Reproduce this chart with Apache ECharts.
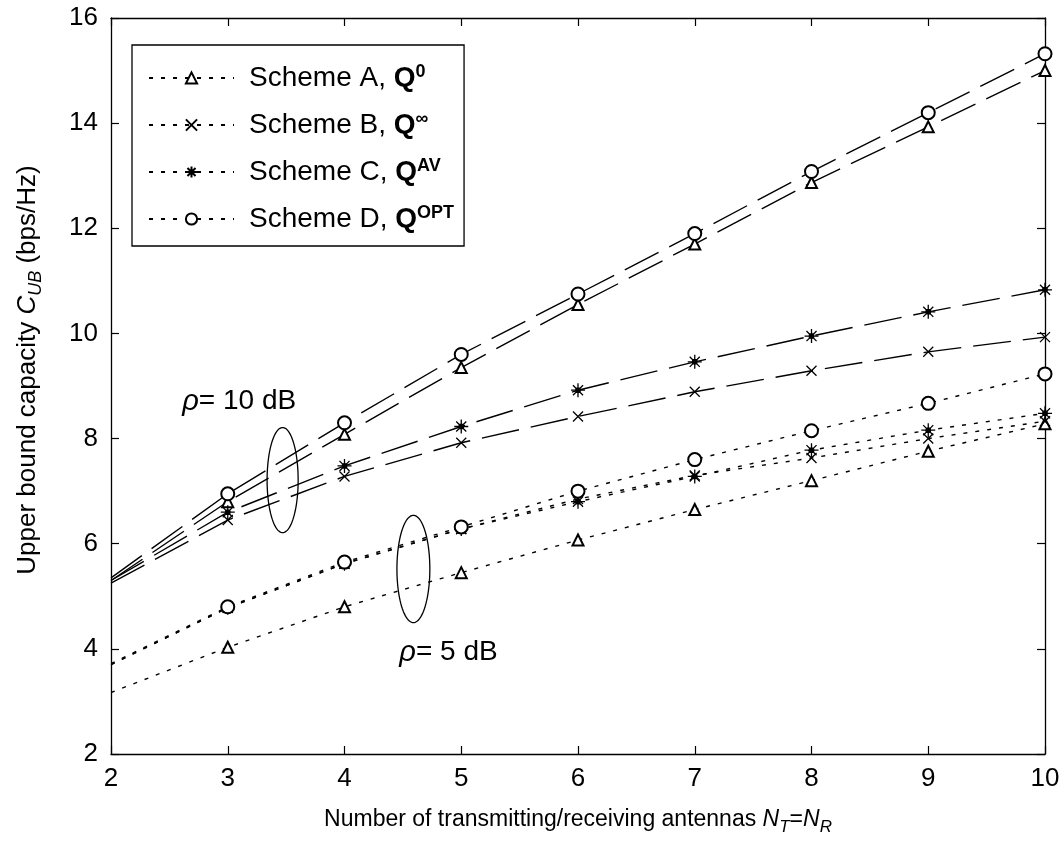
<!DOCTYPE html>
<html>
<head>
<meta charset="utf-8">
<script src="https://cdn.jsdelivr.net/npm/echarts@6/dist/echarts.min.js"></script>
<style>html,body{margin:0;padding:0;background:#fff;}#c{width:1063px;height:841px;}</style>
</head>
<body>
<div id="c"></div>
<script>
// ---- data ----
const antennas = [2, 3, 4, 5, 6, 7, 8, 9, 10];
const yTicks = [2, 4, 6, 8, 10, 12, 14, 16];
const schemeNames = ['Scheme A, Q0', 'Scheme B, Qinf', 'Scheme C, QAV', 'Scheme D, QOPT'];
// rho = 5 dB
const s5_A = [3.17, 4.03, 4.80, 5.45, 6.07, 6.65, 7.20, 7.76, 8.28];
const s5_B = [3.70, 4.78, 5.62, 6.28, 6.85, 7.30, 7.63, 8.00, 8.33];
const s5_C = [3.70, 4.78, 5.62, 6.28, 6.80, 7.28, 7.78, 8.16, 8.48];
const s5_D = [3.72, 4.80, 5.65, 6.32, 7.00, 7.60, 8.15, 8.67, 9.23];
// rho = 10 dB
const s10_A = [5.30, 6.80, 8.08, 9.35, 10.55, 11.70, 12.87, 13.93, 15.00];
const s10_B = [5.25, 6.45, 7.28, 7.92, 8.42, 8.89, 9.29, 9.65, 9.93];
const s10_C = [5.30, 6.60, 7.48, 8.23, 8.92, 9.46, 9.95, 10.41, 10.83];
const s10_D = [5.35, 6.95, 8.30, 9.60, 10.75, 11.90, 13.08, 14.20, 15.32];
// annotations: [x centre, y centre, x radius, y radius]
const ellipses = [[3.47, 7.21, 0.133, 1.00], [4.59, 5.52, 0.141, 1.02]];
const notes = [[2.61, 8.70, '10'], [4.47, 3.93, '5']];

// ---- styles ----
const FONT = 'Liberation Sans';
const symX = 'path://M0,0 L10,10 M10,0 L0,10';
const symStar = 'path://M5,0 L5,10 M0,5 L10,5 M1.4,1.4 L8.6,8.6 M8.6,1.4 L1.4,8.6 M3.5,3.5 L6.5,3.5 L6.5,6.5 L3.5,6.5 Z';
const symbols = ['emptyTriangle', symX, symStar, 'emptyCircle'];
const symSizes = [11, 10, 14, 13];

function mkSeries(name, vals, idx, dash) {
  return {
    type: 'line', name: name,
    xAxisIndex: 0, yAxisIndex: 0,
    data: vals.map((v, i) => i === 0 ? {value: [antennas[i], v], symbol: 'none'} : [antennas[i], v]),
    symbol: symbols[idx], symbolSize: symSizes[idx], showSymbol: true,
    lineStyle: {color: '#000', width: 1.4, type: dash},
    itemStyle: {color: '#000', borderColor: '#000', borderWidth: 1.3},
    animation: false, silent: true, z: 3
  };
}
const dot = [4, 8];
const longDash = [38, 12];
const series = [
  mkSeries(schemeNames[0], s5_A, 0, dot),
  mkSeries(schemeNames[1], s5_B, 1, dot),
  mkSeries(schemeNames[2], s5_C, 2, dot),
  mkSeries(schemeNames[3], s5_D, 3, dot),
  mkSeries(schemeNames[0], s10_A, 0, longDash),
  mkSeries(schemeNames[1], s10_B, 1, longDash),
  mkSeries(schemeNames[2], s10_C, 2, longDash),
  mkSeries(schemeNames[3], s10_D, 3, longDash),
  {
    type: 'custom', name: 'ellipses', data: ellipses, silent: true, animation: false, z: 4,
    renderItem: function (params, api) {
      const c = api.coord([api.value(0), api.value(1)]);
      const s = api.size([api.value(2), api.value(3)]);
      const pts = [];
      for (let k = 0; k <= 90; k++) {
        const t = k / 90 * 2 * Math.PI;
        pts.push([c[0] + s[0] * Math.cos(t), c[1] + s[1] * Math.sin(t)]);
      }
      return {type: 'polyline', shape: {points: pts}, style: {fill: null, stroke: '#000', lineWidth: 1.3}};
    }
  },
  {
    type: 'custom', name: 'notes', data: notes, silent: true, animation: false, z: 4,
    renderItem: function (params, api) {
      const c = api.coord([api.value(0), api.value(1)]);
      const d = notes[params.dataIndex][2];
      return {
        type: 'text', x: c[0], y: c[1],
        style: {
          text: '{i|ρ}= ' + d + ' dB', fill: '#000', align: 'left', verticalAlign: 'middle',
          font: '28px "' + FONT + '"',
          rich: {i: {fontStyle: 'italic', fontSize: 29, fontFamily: FONT, fill: '#000'}}
        }
      };
    }
  }
];

const legendFmt = {
  'Scheme A, Q0': 'Scheme A, {q|Q}{sup|0}',
  'Scheme B, Qinf': 'Scheme B, {q|Q}{sup|∞}',
  'Scheme C, QAV': 'Scheme C, {q|Q}{sup|AV}',
  'Scheme D, QOPT': 'Scheme D, {q|Q}{sup|OPT}'
};

const tickLabel = {color: '#000', fontSize: 26, fontFamily: FONT};

const option = {
  backgroundColor: '#fff',
  animation: false,
  grid: {left: 111, right: 18, top: 18, bottom: 84, containLabel: false},
  legend: {
    data: schemeNames, orient: 'vertical', left: 132, top: 45,
    backgroundColor: '#fff', borderColor: '#000', borderWidth: 1.3,
    padding: [18, 10, 12, 16], itemWidth: 85, itemHeight: 14, itemGap: 17,
    selectedMode: false,
    formatter: function (n) { return legendFmt[n]; },
    textStyle: {
      color: '#000', fontSize: 28, fontFamily: FONT, lineHeight: 30, padding: [0, 0, 0, 10],
      rich: {
        q: {fontWeight: 'bold', fontSize: 28, fontFamily: FONT, color: '#000', lineHeight: 30},
        sup: {fontWeight: 'bold', fontSize: 18, fontFamily: FONT, color: '#000', verticalAlign: 'top', lineHeight: 18}
      }
    }
  },
  xAxis: [{
    type: 'value', min: 2, max: 10, interval: 1, position: 'bottom',
    name: 'Number of transmitting/receiving antennas {i|N}{sub|T}={i|N}{sub|R}',
    nameLocation: 'middle', nameGap: 50,
    nameTextStyle: {
      color: '#000', fontSize: 23, fontFamily: FONT, lineHeight: 32,
      rich: {
        i: {fontStyle: 'italic', fontSize: 23, fontFamily: FONT, color: '#000', lineHeight: 32},
        sub: {fontStyle: 'italic', fontSize: 17, fontFamily: FONT, color: '#000', verticalAlign: 'bottom', lineHeight: 19}
      }
    },
    axisLine: {show: true, onZero: false, lineStyle: {color: '#000', width: 1.3}},
    axisTick: {show: true, inside: true, length: 8, lineStyle: {color: '#000', width: 1.2}},
    axisLabel: Object.assign({margin: 12, formatter: v => String(v)}, tickLabel),
    splitLine: {show: false}
  }, {
    type: 'value', min: 2, max: 10, interval: 1, position: 'top',
    axisLine: {show: true, onZero: false, lineStyle: {color: '#000', width: 1.3}},
    axisTick: {show: true, inside: true, length: 8, lineStyle: {color: '#000', width: 1.2}},
    axisLabel: {show: false}, splitLine: {show: false}
  }],
  yAxis: [{
    type: 'value', min: yTicks[0], max: yTicks[yTicks.length - 1], interval: 2, position: 'left',
    name: 'Upper bound capacity {i|C}{sub|UB} (bps/Hz)',
    nameLocation: 'middle', nameGap: 66, nameRotate: 90,
    nameTextStyle: {
      color: '#000', fontSize: 26, fontFamily: FONT, lineHeight: 34, padding: [0, 0, 0, 32],
      rich: {
        i: {fontStyle: 'italic', fontSize: 26, fontFamily: FONT, color: '#000', lineHeight: 34},
        sub: {fontStyle: 'italic', fontSize: 18, fontFamily: FONT, color: '#000', verticalAlign: 'bottom', lineHeight: 20}
      }
    },
    axisLine: {show: true, onZero: false, lineStyle: {color: '#000', width: 1.3}},
    axisTick: {show: true, inside: true, length: 8, lineStyle: {color: '#000', width: 1.2}},
    axisLabel: Object.assign({margin: 13}, tickLabel),
    splitLine: {show: false}
  }, {
    type: 'value', min: yTicks[0], max: yTicks[yTicks.length - 1], interval: 2, position: 'right',
    axisLine: {show: true, onZero: false, lineStyle: {color: '#000', width: 1.3}},
    axisTick: {show: true, inside: true, length: 8, lineStyle: {color: '#000', width: 1.2}},
    axisLabel: {show: false}, splitLine: {show: false}
  }],
  series: series
};

const chart = echarts.init(document.getElementById('c'), null, {renderer: 'canvas'});
chart.setOption(option);
</script>
</body>
</html>
